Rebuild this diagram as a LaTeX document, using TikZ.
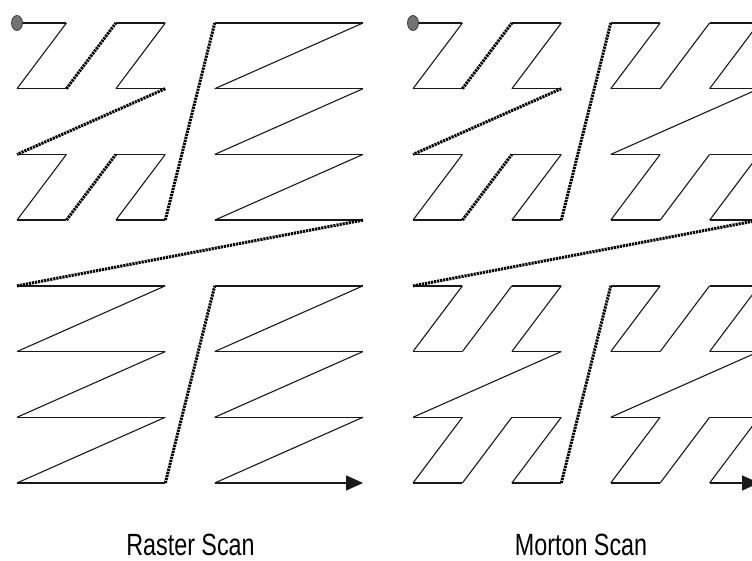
\documentclass[tikz,border=0pt]{standalone}
\usepackage{fontspec}
\setmainfont{Liberation Sans}
\usetikzlibrary{arrows.meta,shapes.geometric}

\tikzset{
  hline/.style={line width=1.4pt, black!90},
  diag/.style={line width=1.1pt, black!90},
  jump/.style={line width=3pt, black, dash pattern=on 2.2pt off 0.9pt},
  startdot/.style={ellipse, draw=black!80, line width=0.7pt, fill=black!55,
                   minimum width=11pt, minimum height=15pt, inner sep=0pt},
  endarrow/.style={-{Triangle[length=17pt,width=15pt]}},
  caption/.style={anchor=base, inner sep=0pt,
                  font=\fontsize{30.7}{36}\selectfont}
}

\begin{document}
\begin{tikzpicture}[x=1pt, y=-1pt]
  \useasboundingbox (0,0) rectangle (752,561);
  \clip (0,0) rectangle (752,561);

  % grid points: L = raster panel, R = Morton panel
  \foreach \c in {0,...,7} {
    \foreach \r in {0,...,7} {
      \coordinate (L\c\r) at ({17+\c*49.43},{23+\r*65.71});
      \coordinate (R\c\r) at ({413+\c*49.43},{23+\r*65.71});
    }
  }

  % ---------------- Raster scan ----------------
  % top-left quadrant in Z order
  \foreach \c in {0,2} {
    \foreach \r in {0,2} {
      \pgfmathtruncatemacro\cc{\c+1}
      \pgfmathtruncatemacro\rr{\r+1}
      \draw[hline] (L\c\r) -- (L\cc\r);
      \draw[diag]  (L\cc\r) -- (L\c\rr);
      \draw[hline] (L\c\rr) -- (L\cc\rr);
    }
  }
  \draw[jump] (L11) -- (L20);
  \draw[jump] (L31) -- (L02);
  \draw[jump] (L13) -- (L22);

  % top-right quadrant, row by row
  \foreach \r in {0,...,3} { \draw[hline] (L4\r) -- (L7\r); }
  \foreach \r in {0,...,2} {
    \pgfmathtruncatemacro\rr{\r+1}
    \draw[diag] (L7\r) -- (L4\rr);
  }
  % bottom-left quadrant, row by row
  \foreach \r in {4,...,7} { \draw[hline] (L0\r) -- (L3\r); }
  \foreach \r in {4,...,6} {
    \pgfmathtruncatemacro\rr{\r+1}
    \draw[diag] (L3\r) -- (L0\rr);
  }
  % bottom-right quadrant, row by row
  \foreach \r in {4,...,6} { \draw[hline] (L4\r) -- (L7\r); }
  \foreach \r in {4,...,6} {
    \pgfmathtruncatemacro\rr{\r+1}
    \draw[diag] (L7\r) -- (L4\rr);
  }
  \draw[hline, endarrow] (L47) -- (L77);

  % jumps between quadrants
  \draw[jump] (L33) -- (L40);
  \draw[jump] (L73) -- (L04);
  \draw[jump] (L37) -- (L44);

  \node[startdot] (Lstart) at (L00) {};

  % ---------------- Morton scan ----------------
  \foreach \c in {0,2,4,6} {
    \foreach \r in {0,2,4,6} {
      \pgfmathtruncatemacro\cc{\c+1}
      \pgfmathtruncatemacro\rr{\r+1}
      \draw[hline] (R\c\r) -- (R\cc\r);
      \draw[diag]  (R\cc\r) -- (R\c\rr);
      \ifnum\c=6 \ifnum\r=6
        \draw[hline, endarrow] (R\c\rr) -- (R\cc\rr);
      \else
        \draw[hline] (R\c\rr) -- (R\cc\rr);
      \fi \else
        \draw[hline] (R\c\rr) -- (R\cc\rr);
      \fi
    }
  }
  % links between 2x2 blocks: dotted in the first quadrant
  \draw[jump] (R11) -- (R20);
  \draw[jump] (R31) -- (R02);
  \draw[jump] (R13) -- (R22);
  \draw[diag] (R51) -- (R60);
  \draw[diag] (R71) -- (R42);
  \draw[diag] (R53) -- (R62);
  \draw[diag] (R15) -- (R24);
  \draw[diag] (R35) -- (R06);
  \draw[diag] (R17) -- (R26);
  \draw[diag] (R55) -- (R64);
  \draw[diag] (R75) -- (R46);
  \draw[diag] (R57) -- (R66);
  % links between quadrants
  \draw[jump] (R33) -- (R40);
  \draw[jump] (R73) -- (R04);
  \draw[jump] (R37) -- (R44);

  \node[startdot] (Rstart) at (R00) {};

  % captions
  \node[caption] (rastercap) at (190.5,555) {\scalebox{0.76}[1]{Raster Scan}};
  \node[caption] (mortoncap) at (581,555) {\scalebox{0.76}[1]{Morton Scan}};
\end{tikzpicture}
\end{document}
